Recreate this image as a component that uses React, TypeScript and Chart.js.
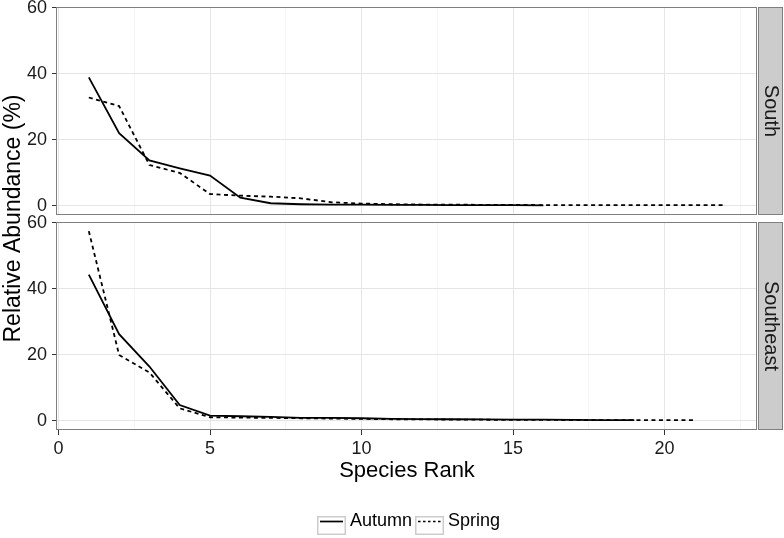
import React, { useEffect, useRef } from 'react';
import { Chart, registerables } from 'chart.js';

Chart.register(...registerables);

// ---- data ----
const panels = ['South', 'Southeast'];
const seasons = ['Autumn', 'Spring'];
const xTickValues = [0, 5, 10, 15, 20];
const yTickValues = [0, 20, 40, 60];

const southAutumn = [38.9, 22.0, 13.7, 11.3, 9.1, 2.4, 0.7, 0.4, 0.3, 0.3, 0.2, 0.2, 0.1, 0.1, 0.1, 0.05];
const southSpring = [32.8, 30.2, 12.3, 9.9, 3.5, 3.0, 2.7, 2.2, 1.0, 0.6, 0.4, 0.3, 0.3, 0.2, 0.2, 0.15, 0.1, 0.1, 0.1, 0.1, 0.1, 0.1];
const southeastAutumn = [44.3, 26.2, 16.4, 4.7, 1.5, 1.3, 1.1, 0.8, 0.8, 0.7, 0.5, 0.45, 0.4, 0.35, 0.3, 0.25, 0.2, 0.15, 0.1];
const southeastSpring = [57.5, 19.9, 14.6, 3.7, 1.0, 0.9, 0.8, 0.7, 0.6, 0.5, 0.4, 0.35, 0.3, 0.25, 0.2, 0.2, 0.15, 0.1, 0.1, 0.1, 0.1];

const xLabel = 'Species Rank';
const yLabel = 'Relative Abundance (%)';

// ---- styling ----
const FONT = "'Liberation Sans', Arial, Helvetica, sans-serif";
const GRID_MAJOR = '#E5E5E5';
const GRID_MINOR = '#F4F4F4';
const BORDER = '#7F7F7F';
const STRIP_FILL = '#CCCCCC';
const TEXT = '#1a1a1a';
const DASH = [4, 3.5];

const toPoints = (vals: number[]) => vals.map((v, i) => ({ x: i + 1, y: v }));
const isMultiple = (v: number, m: number) => Math.abs(v / m - Math.round(v / m)) < 1e-6;

const yScale = (weight: number) => ({
  type: 'linear' as const,
  position: 'left' as const,
  stack: 'panels',
  stackWeight: 208,
  weight,
  min: -2.87,
  max: 60.27,
  ticks: {
    stepSize: 10,
    includeBounds: false,
    padding: 5,
    color: TEXT,
    font: { family: FONT, size: 18 },
    callback: (v: any) => (yTickValues.includes(Number(v)) ? String(v) : ''),
  },
  grid: {
    color: (ctx: any) => (ctx.tick && isMultiple(ctx.tick.value, 20) ? GRID_MAJOR : GRID_MINOR),
    tickColor: (ctx: any) => (ctx.tick && isMultiple(ctx.tick.value, 20) ? '#333333' : 'rgba(0,0,0,0)'),
    tickLength: 5,
    lineWidth: 1,
  },
  border: { display: false },
  afterFit: (s: any) => {
    s.width = 57;
    s.paddingTop = 0;
    s.paddingBottom = 0;
  },
});

const facetPlugin = {
  id: 'facetPlugin',
  beforeDatasetsDraw(chart: any) {
    const { ctx, chartArea } = chart;
    const top = chart.scales.ySouth;
    const bot = chart.scales.ySoutheast;
    ctx.save();
    ctx.fillStyle = '#ffffff';
    ctx.fillRect(chartArea.left - 1, top.bottom, chartArea.right - chartArea.left + 2, bot.top - top.bottom);
    ctx.restore();
  },
  afterDatasetsDraw(chart: any) {
    const { ctx, chartArea } = chart;
    const scales = [chart.scales.ySouth, chart.scales.ySoutheast];
    ctx.save();
    scales.forEach((s: any, i: number) => {
      const h = s.bottom - s.top;
      ctx.strokeStyle = BORDER;
      ctx.lineWidth = 1;
      ctx.setLineDash([]);
      ctx.strokeRect(chartArea.left - 0.5, s.top + 0.5, chartArea.right - chartArea.left, h - 1);
      const sx = chartArea.right + 1;
      const sw = 783 - sx;
      ctx.fillStyle = STRIP_FILL;
      ctx.fillRect(sx, s.top, sw, h);
      ctx.strokeStyle = BORDER;
      ctx.strokeRect(sx + 0.5, s.top + 0.5, sw - 1, h - 1);
      ctx.save();
      ctx.translate(sx + sw / 2, s.top + h / 2);
      ctx.rotate(Math.PI / 2);
      ctx.fillStyle = TEXT;
      ctx.font = `20px ${FONT}`;
      ctx.textAlign = 'center';
      ctx.textBaseline = 'middle';
      ctx.fillText(panels[i], 0, 0);
      ctx.restore();
    });
    ctx.restore();
  },
  afterDraw(chart: any) {
    const { ctx } = chart;
    const top = chart.scales.ySouth;
    const bot = chart.scales.ySoutheast;
    ctx.save();
    ctx.translate(14, (top.top + bot.bottom) / 2);
    ctx.rotate(-Math.PI / 2);
    ctx.fillStyle = '#000';
    ctx.font = `23px ${FONT}`;
    ctx.textAlign = 'center';
    ctx.textBaseline = 'middle';
    ctx.fillText(yLabel, 0, 0);
    ctx.restore();

    // legend
    ctx.save();
    ctx.font = `18px ${FONT}`;
    ctx.textBaseline = 'middle';
    ctx.textAlign = 'left';
    const keyW = 29;
    const keyH = 19;
    const keyTop = 516;
    const lineY = 521.5;
    const gapAfterKey = 4;
    const gapAfterText = 3;
    const widths = seasons.map((s) => ctx.measureText(s).width);
    const total = widths.reduce((a, w) => a + keyW + gapAfterKey + w, 0) + gapAfterText;
    let x = Math.round(409 - total / 2);
    seasons.forEach((s, i) => {
      ctx.fillStyle = '#fff';
      ctx.fillRect(x, keyTop, keyW, keyH);
      ctx.strokeStyle = STRIP_FILL;
      ctx.lineWidth = 1.5;
      ctx.setLineDash([]);
      ctx.strokeRect(x + 0.75, keyTop + 0.75, keyW - 1.5, keyH - 1.5);
      ctx.strokeStyle = '#000';
      ctx.lineWidth = 1.7;
      ctx.setLineDash(i === 1 ? [2.5, 2.5] : []);
      ctx.beginPath();
      ctx.moveTo(x + 3, lineY);
      ctx.lineTo(x + keyW - 3, lineY);
      ctx.stroke();
      ctx.setLineDash([]);
      ctx.fillStyle = '#000';
      ctx.fillText(s, x + keyW + gapAfterKey, lineY);
      x += keyW + gapAfterKey + widths[i] + gapAfterText;
    });
    ctx.restore();
  },
};

export default function App() {
  const ref = useRef<HTMLCanvasElement>(null);

  useEffect(() => {
    if (!ref.current) return;
    const lineDs = (label: string, data: number[], yAxisID: string, dashed: boolean) => ({
      label,
      data: toPoints(data),
      xAxisID: 'x',
      yAxisID,
      borderColor: '#000',
      backgroundColor: '#000',
      borderWidth: 1.8,
      borderDash: dashed ? DASH : [],
      pointRadius: 0,
      pointHoverRadius: 0,
      fill: false,
      tension: 0,
    });

    const chart = new Chart(ref.current, {
      type: 'line',
      data: {
        datasets: [
          lineDs(`${panels[0]} ${seasons[0]}`, southAutumn, 'ySouth', false),
          lineDs(`${panels[0]} ${seasons[1]}`, southSpring, 'ySouth', true),
          lineDs(`${panels[1]} ${seasons[0]}`, southeastAutumn, 'ySoutheast', false),
          lineDs(`${panels[1]} ${seasons[1]}`, southeastSpring, 'ySoutheast', true),
        ],
      },
      options: {
        responsive: false,
        animation: false,
        devicePixelRatio: 1,
        layout: { padding: { left: 0, right: 27, top: 7, bottom: 48 } },
        plugins: {
          legend: { display: false },
          tooltip: { enabled: false },
        },
        scales: {
          x: {
            type: 'linear',
            position: 'bottom',
            min: -0.05,
            max: 23.05,
            ticks: {
              stepSize: 2.5,
              includeBounds: false,
              autoSkip: false,
              maxRotation: 0,
              minRotation: 0,
              padding: 3,
              color: TEXT,
              font: { family: FONT, size: 18 },
              callback: (v: any) => (xTickValues.includes(Number(v)) ? String(v) : ''),
            },
            grid: {
              color: (ctx: any) => (ctx.tick && isMultiple(ctx.tick.value, 5) ? GRID_MAJOR : GRID_MINOR),
              tickColor: (ctx: any) => (ctx.tick && isMultiple(ctx.tick.value, 5) ? '#333333' : 'rgba(0,0,0,0)'),
              tickLength: 5,
              lineWidth: 1,
            },
            border: { display: false },
            title: {
              display: true,
              text: xLabel,
              color: '#000',
              font: { family: FONT, size: 22 },
              padding: { top: 0, bottom: 6 },
            },
            afterFit: (s: any) => {
              s.height = 60;
              s.paddingLeft = 0;
              s.paddingRight = 0;
            },
          } as any,
          ySouth: yScale(2) as any,
          yGap: {
            type: 'linear',
            position: 'left',
            stack: 'panels',
            stackWeight: 7,
            weight: 1,
            display: false,
            min: 0,
            max: 1,
            afterFit: (s: any) => {
              s.width = 57;
              s.paddingTop = 0;
              s.paddingBottom = 0;
            },
          } as any,
          ySoutheast: yScale(0) as any,
        },
      },
      plugins: [facetPlugin],
    } as any);
    return () => chart.destroy();
  }, []);

  return (
    <div style={{ position: 'absolute', left: 0, top: 0, width: 784, height: 538, background: '#fff' }}>
      <canvas ref={ref} width={784} height={538} style={{ display: 'block', width: 784, height: 538 }} />
    </div>
  );
}
